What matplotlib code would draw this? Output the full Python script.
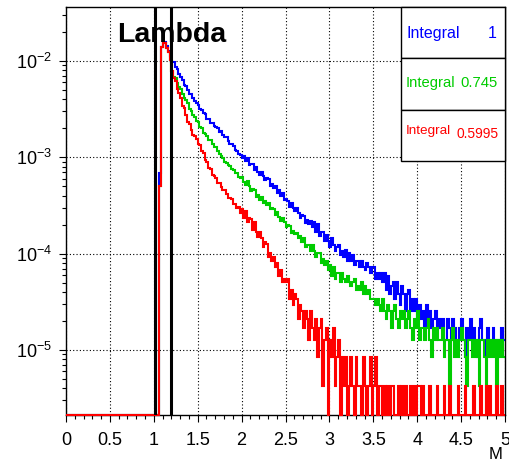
import numpy as np
import matplotlib
matplotlib.use('Agg')
import matplotlib.pyplot as plt
from matplotlib.patches import Rectangle
from matplotlib.ticker import MultipleLocator, LogLocator, FuncFormatter, NullFormatter

plt.rcParams['font.family'] = 'Liberation Sans'
plt.rcParams['mathtext.fontset'] = 'custom'
plt.rcParams['mathtext.rm'] = 'Liberation Sans'
plt.rcParams['mathtext.it'] = 'Liberation Sans:italic'
plt.rcParams['mathtext.bf'] = 'Liberation Sans:bold'

# bins of 0.02 from 1.06 to 5.00, contents in entries (one entry = entry_weight)
bin_width = 0.02
first_edge = 1.06
entry_weight = 4.22e-6

blue_counts = [
    161, 3320, 3740, 3720, 3380, 3020, 2650,
    2330, 2315, 2063, 1968, 1719, 1615, 1511, 1345, 1311, 1179,
    1082, 1066, 975, 900, 874, 831, 744, 731, 677, 659,
    598, 587, 538, 540, 496, 488, 476, 437, 439, 404,
    381, 381, 352, 328, 322, 309, 279, 277, 258, 253,
    235, 244, 215, 232, 197, 204, 200, 173, 189, 168,
    156, 168, 151, 136, 143, 140, 118, 124, 113, 119,
    102, 108, 94, 101, 85, 87, 84, 73, 80, 71,
    65, 70, 62, 56, 59, 58, 49, 53, 48, 52,
    45, 51, 40, 48, 36, 40, 40, 32, 37, 32,
    28, 34, 29, 25, 28, 29, 23, 25, 22, 26,
    20, 24, 20, 23, 18, 20, 20, 17, 20, 17,
    16, 19, 17, 15, 17, 17, 13, 15, 13, 15, 12,
    15, 10, 14, 9, 11, 12, 8, 12, 9, 7,
    11, 9, 6, 9, 10, 6, 8, 6, 8, 5,
    7, 5, 6, 4, 7, 5, 6, 4, 5, 6, 4, 5,
    4, 5, 3, 3, 5, 4, 3, 5, 4, 3,
    3, 4, 5, 3, 2, 4, 3, 5, 3, 4,
    3, 2, 4, 5, 3, 3, 2, 4, 3, 3,
    4, 3, 2, 3, 3, 4, 3,
]

green_counts = [
    120, 3300, 3720, 3620, 3250, 2900, 2430,
    1859, 1633, 1569, 1392, 1259, 1215, 1084, 977, 925, 858,
    751, 718, 646, 623, 560, 545, 494, 481, 428, 414,
    397, 361, 359, 328, 306, 302, 275, 254, 245, 234,
    210, 209, 196, 193, 177, 176, 163, 163, 148, 145,
    147, 131, 123, 133, 119, 107, 112, 109, 92, 96,
    86, 91, 79, 84, 75, 80, 68, 70, 68, 59,
    64, 57, 52, 56, 50, 45, 47, 46, 39, 41,
    38, 39, 34, 36, 31, 34, 28, 29, 29, 25,
    29, 25, 22, 24, 24, 19, 21, 18, 20, 16,
    18, 14, 17, 13, 15, 15, 12, 15, 13, 12,
    14, 12, 11, 12, 13, 10, 11, 10, 12, 9,
    11, 9, 10, 8, 8, 8, 7, 8, 7, 6, 8,
    6, 5, 7, 6, 4, 6, 7, 5, 4, 6, 5, 6,
    4, 5, 6, 4, 3, 5, 4, 6, 3, 4,
    4, 3, 4, 5, 3, 2, 4, 3, 4, 3,
    3, 4, 2, 3, 3, 1, 3, 4, 2, 3,
    2, 3, 4, 3, 2, 1, 3, 3, 2, 3,
    2, 3, 1, 3, 3, 2, 0, 3, 2, 3,
    2, 3, 1, 3, 2, 3, 2,
]

red_counts = [
    120, 3300, 3720, 3620, 3250, 2900, 2430,
    1845, 1586, 1479, 1200, 1108, 981, 811, 763, 644, 557,
    528, 450, 402, 394, 371, 323, 316, 276, 265, 223,
    213, 183, 178, 154, 153, 145, 128, 129, 117, 108,
    109, 99, 90, 90, 87, 77, 77, 71, 72, 63,
    69, 56, 65, 50, 55, 54, 42, 50, 40, 35,
    40, 34, 28, 31, 30, 22, 24, 20, 22, 17,
    19, 14, 16, 12, 13,
    12, 13, 8, 10, 7, 9, 8, 5, 7, 6,
    4, 6, 5, 3, 6, 4, 3, 5, 2, 4,
    5, 1, 3, 4, 0,
    3, 2, 4, 1, 2, 3, 0, 2, 1, 2,
    0, 1, 2, 1, 0, 2, 1, 1, 0, 2,
    1, 0, 1, 2, 0,
    1, 2, 0, 1, 1, 0, 1, 0,
    1, 0, 1, 1, 0, 0, 1, 0, 1, 0,
    1, 0, 0, 1, 0, 1, 0, 1, 1, 0,
    1, 0, 0, 0, 1, 0, 0, 0, 1, 0,
    0, 0, 1, 0, 0, 1, 0, 0, 0, 0,
    1, 0, 0, 0, 1, 0, 0, 0, 0, 1,
    0, 0, 0, 1, 0, 0, 1, 0, 1, 0,
    0, 0, 1, 0, 0, 1, 0,
]

cut_lines = [1.01, 1.2]
integral_values = ['1', '0.745', '0.5995']
colors = ['#0000ff', '#00cc00', '#ff0000']

y_min, y_max = 2.11e-6, 0.0363

fig = plt.figure(figsize=(5.1, 4.61), dpi=100)
ax = fig.add_axes([66 / 510, 1 - 415 / 461, 439 / 510, 408 / 461])
ax.set_yscale('log')
ax.set_xlim(0, 5)
ax.set_ylim(y_min, y_max)

n = len(blue_counts)
edges = np.concatenate([[0.0], np.round(first_edge + bin_width * np.arange(n + 1), 4)])

for counts, c in zip([blue_counts, green_counts, red_counts], colors):
    vals = np.concatenate([[0], counts]) * entry_weight
    vals = np.where(vals > 0, vals, y_min)
    ax.stairs(vals, edges, baseline=None, color=c, lw=1.5, clip_on=False, zorder=3)

for xc in cut_lines:
    ax.axvline(xc, color='black', lw=2.2, zorder=4)

ax.grid(True, which='major', color='black', linestyle=(0, (1, 2)), lw=0.8, zorder=1)
ax.set_axisbelow(True)

ax.xaxis.set_major_locator(MultipleLocator(0.5))
ax.xaxis.set_minor_locator(MultipleLocator(0.1))
ax.xaxis.set_major_formatter(FuncFormatter(lambda v, p: f'{v:g}'))
ax.yaxis.set_major_locator(LogLocator(base=10, numticks=10))
ax.yaxis.set_minor_locator(LogLocator(base=10, subs=np.arange(2, 10), numticks=20))
ax.yaxis.set_minor_formatter(NullFormatter())

ax.tick_params(which='both', direction='out', top=False, right=False, width=0.8,
               labelsize=13, colors='black')
ax.tick_params(which='major', length=5)
ax.tick_params(which='minor', length=3)
ax.tick_params(axis='x', pad=7)
ax.tick_params(axis='y', pad=5)
for s in ax.spines.values():
    s.set_linewidth(1.0)

# integral boxes at top right
box_x = 335 / 439
rows = [(0.875, 1.0), (0.7475, 0.875), (0.6225, 0.7475)]
for y0, y1 in rows:
    ax.add_patch(Rectangle((box_x, y0), 1 - box_x, y1 - y0, transform=ax.transAxes,
                           facecolor='white', edgecolor='black', lw=1.0, zorder=6,
                           clip_on=False))

label_pos = [(0.936, 0.936, 11.5, 11.5, 0.981),
             (0.814, 0.814, 10.6, 10.7, 0.983),
             (0.696, 0.688, 9.7, 9.9, 0.986)]
for (yl, yv, fl, fv, xv), c, val in zip(label_pos, colors, integral_values):
    ax.text(0.7745, yl, 'Integral', transform=ax.transAxes, color=c, fontsize=fl,
            va='center', ha='left', zorder=7)
    ax.text(xv, yv, val, transform=ax.transAxes, color=c, fontsize=fv,
            va='center', ha='right', zorder=7)

fig.text(172 / 510, 1 - 42 / 461, 'Lambda', fontsize=20.5, fontweight='bold',
         ha='center', va='baseline')
fig.text(503 / 510, 1 - 459 / 461, 'M', fontsize=12, ha='right', va='baseline')

fig.savefig('out.png', dpi=100)
